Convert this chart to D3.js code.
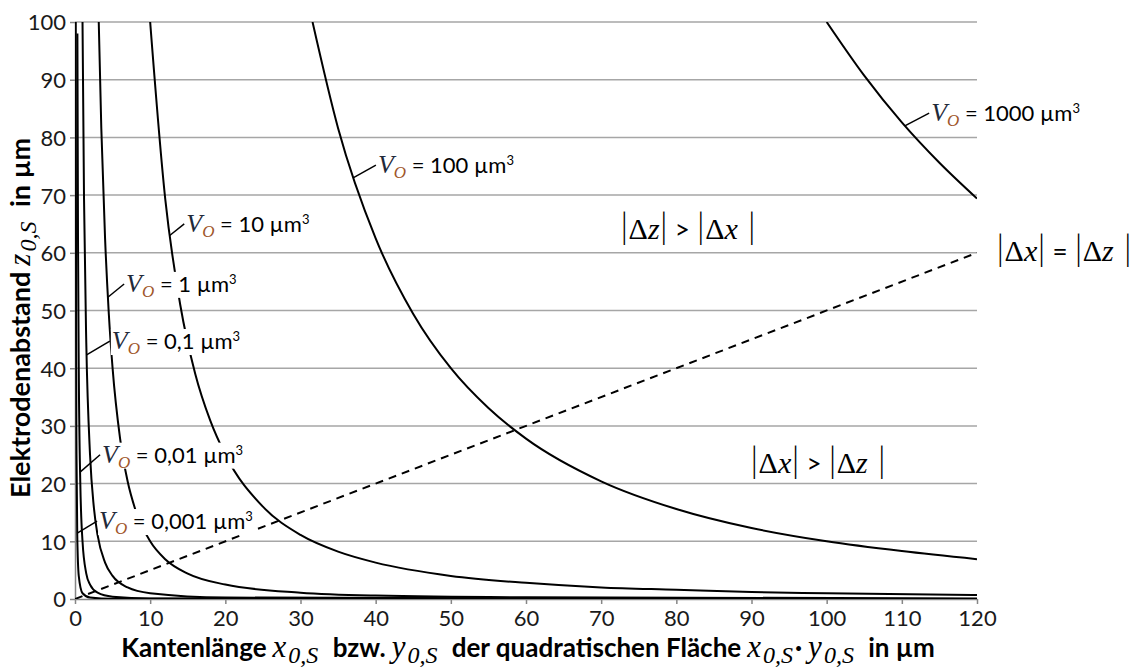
<!DOCTYPE html>
<html>
<head>
<meta charset="utf-8">
<script src="https://cdn.jsdelivr.net/npm/d3@7"></script>
<style>
  body { margin: 0; background: #fff; }
  #chart__container { width: 1146px; height: 670px; }
</style>
</head>
<body>
<div id="chart__container"></div>
<script>
// values: edge length x (µm) and electrode gap z (µm) per volume
const kante1000 = [100, 105, 110, 115, 120],
  abstand1000 = [100, 90.7, 82.6, 75.6, 69.4],
  kante100 = [31.6, 35, 40, 45, 50, 55, 60, 70, 80, 90, 100, 110, 120],
  abstand100 = [100, 81.6, 62.5, 49.4, 40, 33.1, 27.8, 20.4, 15.6, 12.3, 10, 8.3, 6.9],
  kante10 = [10, 12, 14, 16, 18, 20, 25, 30, 35, 40, 50, 60, 70, 80, 90, 100, 120],
  abstand10 = [100, 69.4, 51, 39, 30.9, 25, 16, 11.1, 8.2, 6.3, 4, 2.8, 2, 1.6, 1.2, 1, 0.7],
  kante1 = [3.16, 3.5, 4, 4.5, 5, 6, 7, 8, 10, 12, 15, 20, 30, 40, 60, 120],
  abstand1 = [100, 81.6, 62.5, 49.4, 40, 27.8, 20.4, 15.6, 10, 6.9, 4.4, 2.5, 1.1, 0.6, 0.3, 0.1],
  kante01 = [1, 1.2, 1.5, 2, 2.5, 3, 4, 5, 7, 10, 20, 120],
  abstand01 = [100, 69.4, 44.4, 25, 16, 11.1, 6.3, 4, 2, 1, 0.25, 0.01],
  kante001 = [0.32, 0.4, 0.5, 0.7, 1, 1.5, 2, 3, 5, 10, 120],
  abstand001 = [98, 62.5, 40, 20.4, 10, 4.4, 2.5, 1.1, 0.4, 0.1, 0],
  kante0001 = [0.1, 0.15, 0.2, 0.3, 0.5, 1, 2, 5, 120],
  abstand0001 = [100, 44.4, 25, 11.1, 4, 1, 0.25, 0.04, 0],
  grenzeX = [0, 120],
  grenzeZ = [0, 60],
  volumes = ["1000", "100", "10", "1", "0,1", "0,01", "0,001"],
  xTicks = [0, 10, 20, 30, 40, 50, 60, 70, 80, 90, 100, 110, 120],
  yTicks = [0, 10, 20, 30, 40, 50, 60, 70, 80, 90, 100];

const curves = [
  [kante1000, abstand1000], [kante100, abstand100], [kante10, abstand10],
  [kante1, abstand1], [kante01, abstand01], [kante001, abstand001], [kante0001, abstand0001]
].map(([xs, zs], i) => ({ volume: volumes[i], points: xs.map((x, j) => [x, zs[j]]) }));

// where each label leader touches its curve, and where the label text starts
const labelAt = [
  { ax: 110.4, az: 82.0, lx: 113.9, lz: 84.2 },
  { ax: 37.0, az: 73.0, lx: 40.3, lz: 75.2 },
  { ax: 12.6, az: 63.0, lx: 14.8, lz: 65.0 },
  { ax: 4.37, az: 52.3, lx: 6.8, lz: 54.6 },
  { ax: 1.54, az: 42.3, lx: 4.9, lz: 44.7 },
  { ax: 0.67, az: 22.0, lx: 3.6, lz: 25.0 },
  { ax: 0.3, az: 11.4, lx: 3.2, lz: 13.5 }
];

const WIDTH = 1146,
  HEIGHT = 670,
  margin = { top: 22, right: 169, bottom: 71, left: 75 },
  GRID = "#a6a6a6",
  AXIS = "#868686",
  SANS = "Lato, 'Open Sans', sans-serif",
  MATH = "'Liberation Serif', 'DejaVu Serif', serif";

const svg = d3.select("#chart__container").append("svg")
  .attr("width", WIDTH)
  .attr("height", HEIGHT);

const x = d3.scaleLinear().domain([0, 120]).range([margin.left, WIDTH - margin.right]),
  y = d3.scaleLinear().domain([0, 100]).range([HEIGHT - margin.bottom, margin.top]);

svg.append("clipPath").attr("id", "plot-clip")
  .append("rect")
  .attr("x", x(0)).attr("y", y(100))
  .attr("width", x(120) - x(0)).attr("height", y(0) - y(100));

// horizontal grid
svg.append("g")
  .selectAll("line")
  .data(yTicks.filter(d => d > 0))
  .enter()
  .append("line")
  .attr("x1", x(0)).attr("x2", x(120))
  .attr("y1", d => y(d)).attr("y2", d => y(d))
  .attr("stroke", GRID)
  .attr("stroke-width", 1.5);

// axes
const xAxis = svg.append("g")
  .attr("transform", `translate(0,${y(0)})`)
  .call(d3.axisBottom(x).tickValues(xTicks).tickSize(5).tickSizeOuter(0).tickPadding(6));
const yAxis = svg.append("g")
  .attr("transform", `translate(${x(0)},0)`)
  .call(d3.axisLeft(y).tickValues(yTicks).tickSize(5).tickSizeOuter(0).tickPadding(4));

[xAxis, yAxis].forEach(a => {
  a.attr("font-family", SANS).attr("font-size", 22);
  a.select(".domain").attr("stroke", AXIS).attr("stroke-width", 1.5);
  a.selectAll(".tick line").attr("stroke", AXIS).attr("stroke-width", 1.5);
  a.selectAll(".tick text").attr("fill", "#1a1a1a");
});
yAxis.selectAll(".tick text").attr("dy", "0.36em");

// curves
const line = d3.line()
  .x(d => x(d[0]))
  .y(d => y(d[1]))
  .curve(d3.curveMonotoneX);

const plot = svg.append("g").attr("clip-path", "url(#plot-clip)");

plot.append("path")
  .attr("d", line(grenzeX.map((v, i) => [v, grenzeZ[i]])))
  .attr("fill", "none")
  .attr("stroke", "#000")
  .attr("stroke-width", 2)
  .attr("stroke-dasharray", "8,6");

plot.selectAll(".volume")
  .data(curves)
  .enter()
  .append("path")
  .attr("class", "volume")
  .attr("d", d => line(d.points))
  .attr("fill", "none")
  .attr("stroke", "#000")
  .attr("stroke-width", 2);

// leaders
svg.append("g")
  .selectAll("line")
  .data(labelAt)
  .enter()
  .append("line")
  .attr("x1", d => x(d.ax)).attr("y1", d => y(d.az))
  .attr("x2", d => x(d.lx) - 2).attr("y2", d => y(d.lz))
  .attr("stroke", "#000")
  .attr("stroke-width", 1.5);

// volume labels with a white box behind them
const labels = svg.append("g")
  .selectAll("g")
  .data(labelAt)
  .enter()
  .append("g");

labels.each(function(d, i) {
  const g = d3.select(this),
    t = g.append("text")
      .attr("x", x(d.lx))
      .attr("y", y(d.lz))
      .attr("dy", "0.36em")
      .attr("font-family", SANS)
      .attr("font-size", 22)
      .attr("fill", "#000");
  t.append("tspan").attr("font-family", MATH).attr("font-style", "italic").attr("font-size", 26).attr("fill", "#1f2a3a").text("V");
  t.append("tspan").attr("font-family", MATH).attr("font-style", "italic").attr("font-size", 17).attr("fill", "#a0562a").attr("dy", 5).text("O");
  t.append("tspan").attr("dy", -5).text(" = " + volumes[i] + " µm");
  t.append("tspan").attr("font-size", 13).attr("dy", -8).text("3");
  const b = t.node().getBBox();
  g.insert("rect", "text")
    .attr("x", b.x - 1).attr("y", b.y + 3)
    .attr("width", b.width + 2).attr("height", b.height - 6)
    .attr("fill", "#fff");
});

// region labels
const regions = [
  { px: 620, py: 228, parts: ["z", ">", "x"] },
  { px: 996, py: 250, parts: ["x", "=", "z"] },
  { px: 750, py: 462, parts: ["x", ">", "z"] }
];

regions.forEach(r => {
  const t = svg.append("text")
    .attr("x", r.px)
    .attr("y", r.py)
    .attr("dy", "0.35em")
    .attr("font-family", MATH)
    .attr("font-size", 30)
    .attr("fill", "#000");
  const bar = s => t.append("tspan").attr("font-family", SANS).attr("font-weight", 300).attr("font-size", 36).text(s);
  const delta = v => {
    t.append("tspan").text("Δ");
    t.append("tspan").attr("font-style", "italic").text(v);
  };
  bar("|");
  delta(r.parts[0]);
  bar("|");
  t.append("tspan").attr("font-family", SANS).attr("font-size", 26).text(" " + r.parts[1] + " ");
  bar("|");
  delta(r.parts[2]);
  bar(" |");
});

// axis titles
function mathVar(t, v) {
  t.append("tspan").attr("font-family", MATH).attr("font-style", "italic").attr("font-weight", "normal").attr("font-size", 31).attr("dx", 6).text(v);
  t.append("tspan").attr("font-family", MATH).attr("font-style", "italic").attr("font-weight", "normal").attr("font-size", 24).attr("dx", 2).attr("dy", 6).text("0,S");
}

const xTitle = svg.append("text")
  .attr("x", 528)
  .attr("y", 657)
  .attr("text-anchor", "middle")
  .attr("font-family", SANS)
  .attr("font-size", 26)
  .attr("font-weight", "bold")
  .attr("fill", "#000");
xTitle.append("tspan").text("Kantenlänge");
mathVar(xTitle, "x");
xTitle.append("tspan").attr("dy", -6).attr("dx", 8).text("  bzw.");
mathVar(xTitle, "y");
xTitle.append("tspan").attr("dy", -6).attr("dx", 8).text("  der quadratischen Fläche");
mathVar(xTitle, "x");
xTitle.append("tspan").attr("dy", -6).attr("dx", 2).text("·");
mathVar(xTitle, "y");
xTitle.append("tspan").attr("dy", -6).attr("dx", 8).text("  in µm");

const yTitle = svg.append("text")
  .attr("transform", "translate(30,318) rotate(-90)")
  .attr("text-anchor", "middle")
  .attr("font-family", SANS)
  .attr("font-size", 27)
  .attr("font-weight", "bold")
  .attr("fill", "#000");
yTitle.append("tspan").text("Elektrodenabstand");
mathVar(yTitle, "z");
yTitle.append("tspan").attr("dy", -6).attr("dx", 8).text("  in µm");
</script>
</body>
</html>
